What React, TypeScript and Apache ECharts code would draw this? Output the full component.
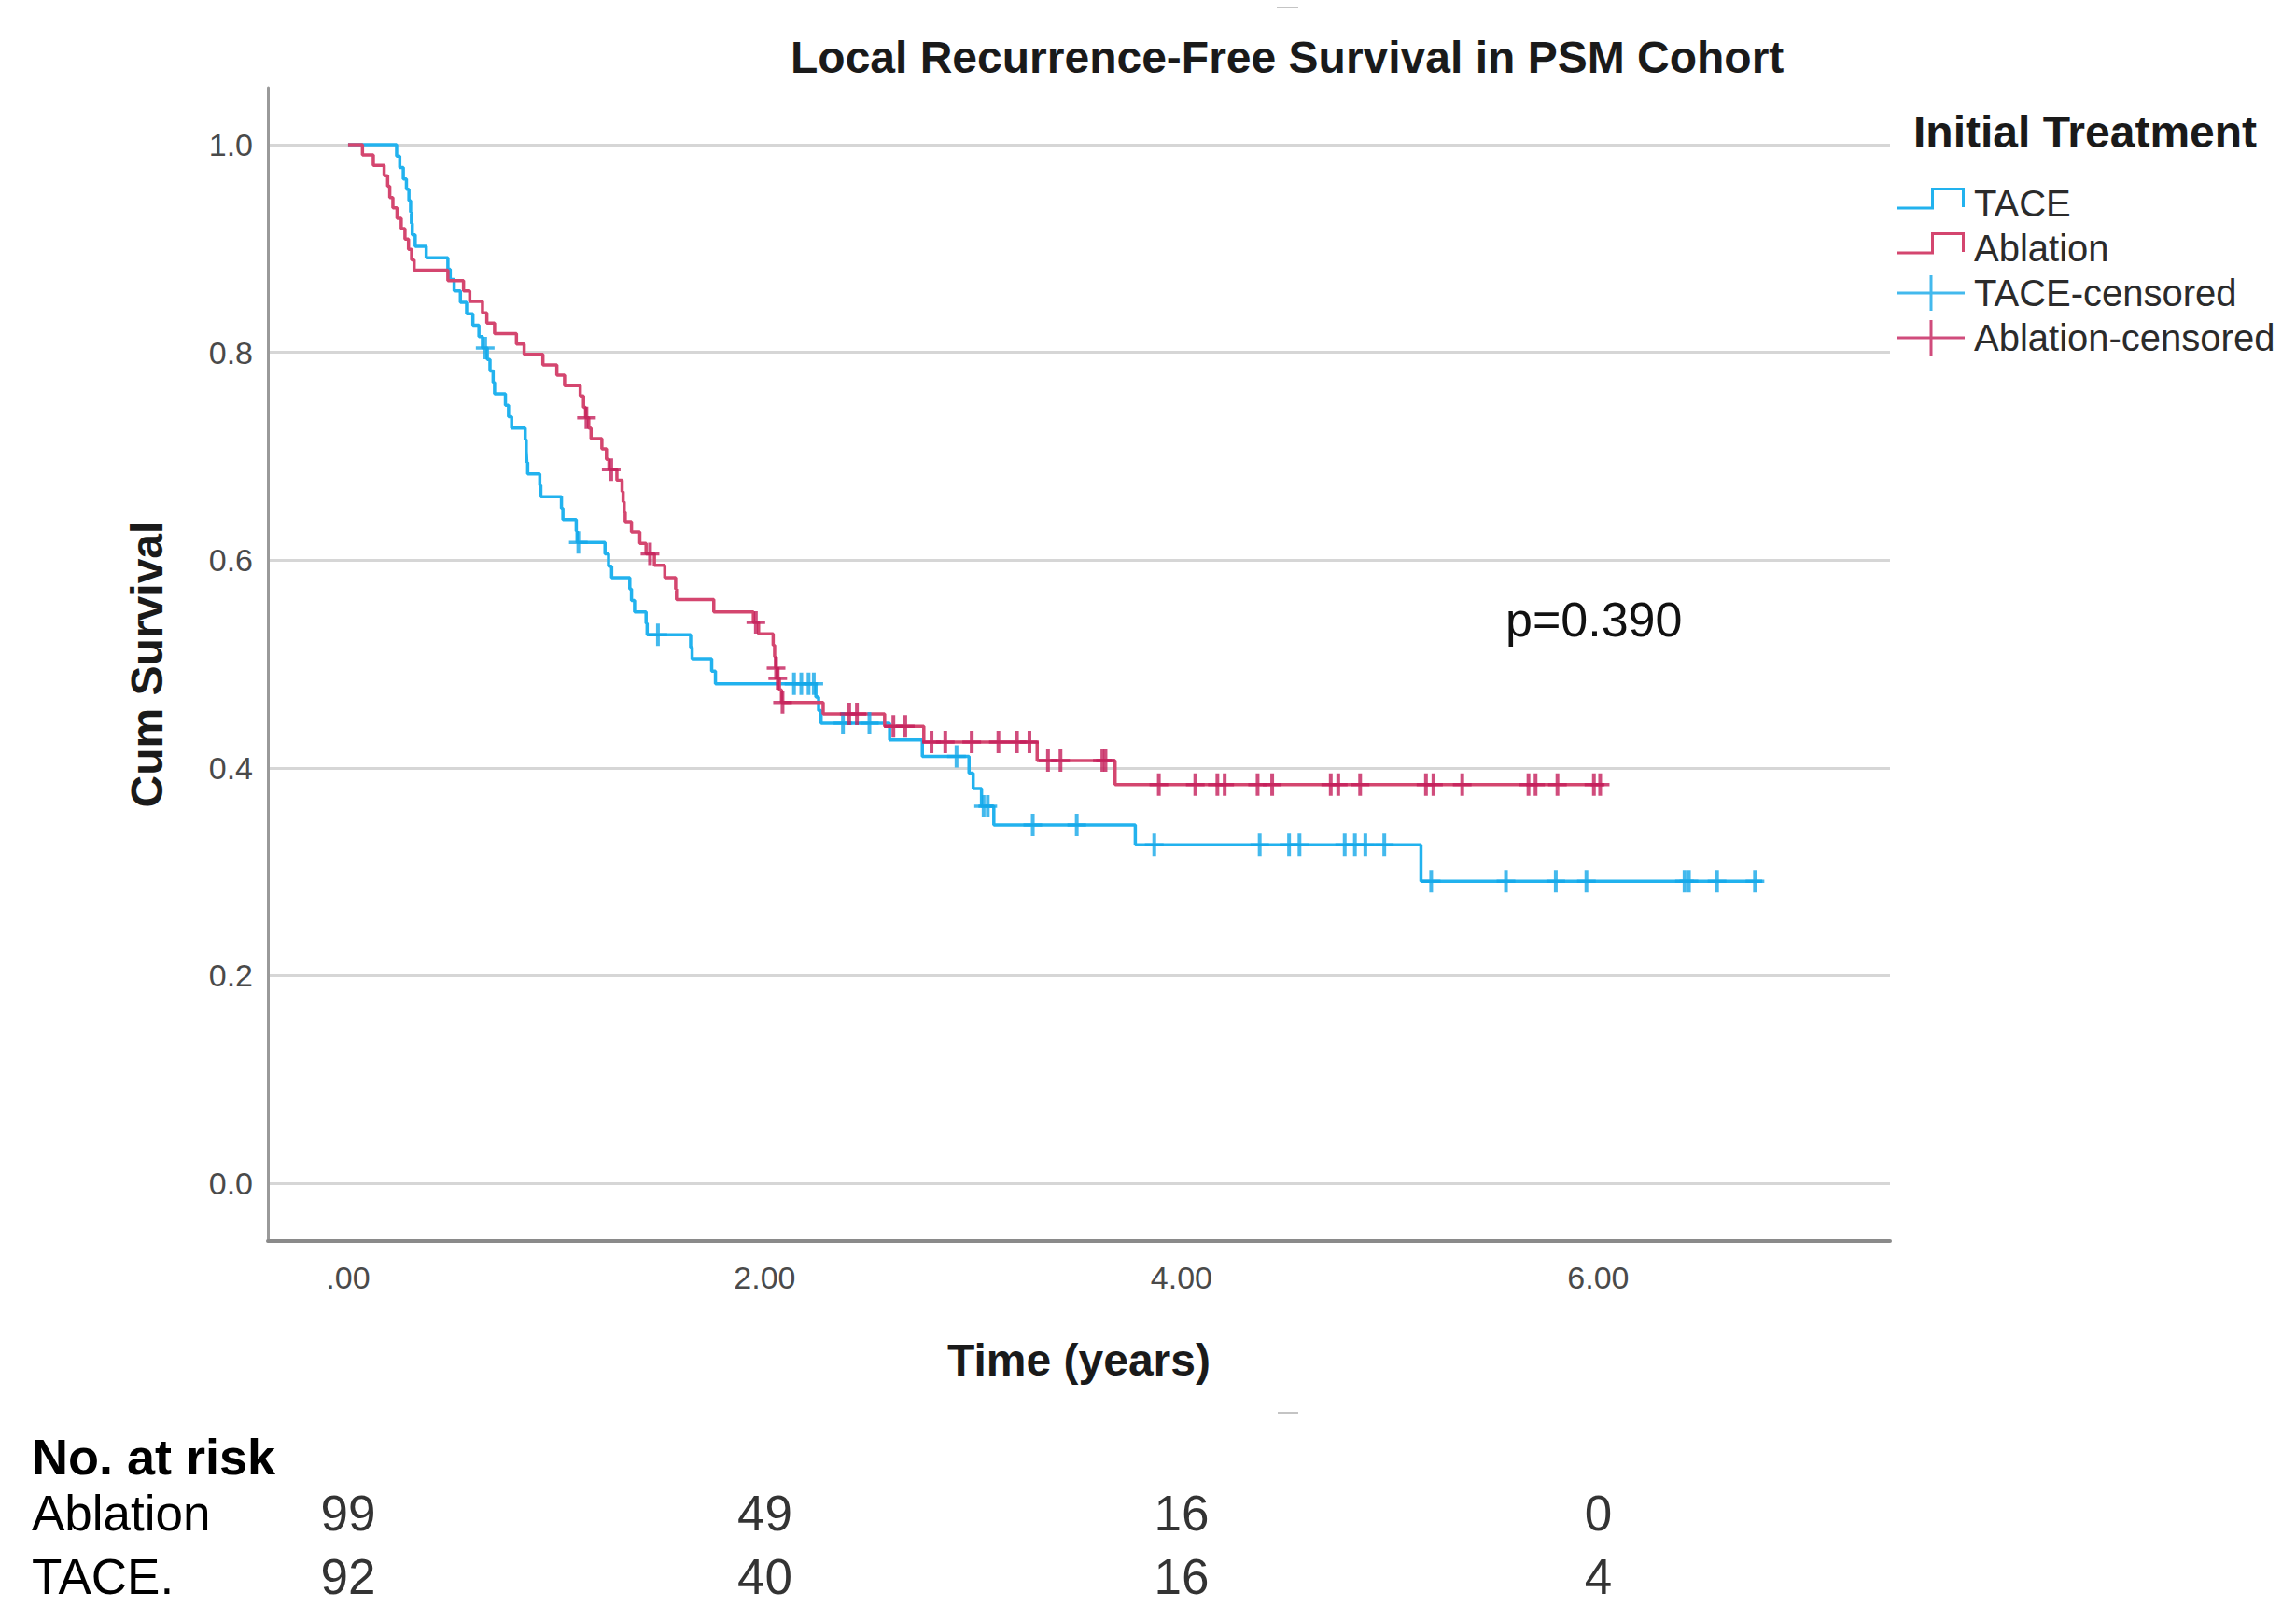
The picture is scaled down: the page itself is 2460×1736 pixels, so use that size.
import React, { useEffect, useRef } from 'react';
import * as echarts from 'echarts';

const FONT = '"Liberation Sans", Arial, Helvetica, sans-serif';

// ---- Data ----
const titleText = 'Local Recurrence-Free Survival in PSM Cohort';
const legendTitle = 'Initial Treatment';
const pValueText = 'p=0.390';

const xTickValues = [0, 2, 4, 6];
const xTickLabels = ['.00', '2.00', '4.00', '6.00'];
const yTickValues = [0, 0.2, 0.4, 0.6, 0.8, 1.0];
const yTickLabels = ['0.0', '0.2', '0.4', '0.6', '0.8', '1.0'];

// Kaplan-Meier step points: [time (years), cumulative survival after the step]
const taceSteps: [number, number][] = [
  [0, 1.0], [0.233, 0.989], [0.248, 0.978], [0.265, 0.967], [0.28, 0.957], [0.292, 0.946],
  [0.3, 0.935], [0.304, 0.924], [0.308, 0.913], [0.322, 0.902], [0.375, 0.891], [0.479, 0.88],
  [0.49, 0.87], [0.509, 0.859], [0.539, 0.848], [0.569, 0.837], [0.599, 0.826], [0.628, 0.815],
  [0.645, 0.804], [0.668, 0.793], [0.681, 0.782], [0.696, 0.771], [0.703, 0.76], [0.755, 0.749],
  [0.77, 0.738], [0.785, 0.727], [0.85, 0.716], [0.855, 0.705], [0.858, 0.694], [0.862, 0.683],
  [0.92, 0.672], [0.925, 0.661], [1.024, 0.65], [1.031, 0.639], [1.095, 0.628], [1.099, 0.617],
  [1.233, 0.606], [1.25, 0.594], [1.265, 0.583], [1.352, 0.572], [1.36, 0.561], [1.375, 0.55],
  [1.43, 0.539], [1.435, 0.528], [1.644, 0.516], [1.651, 0.505], [1.745, 0.493], [1.763, 0.481],
  [2.245, 0.468], [2.258, 0.455], [2.27, 0.443], [2.599, 0.427], [2.756, 0.411], [2.98, 0.395],
  [3.0, 0.38], [3.04, 0.363], [3.099, 0.345], [3.778, 0.326], [5.149, 0.291], [6.787, 0.291],
];
const taceCensored: [number, number][] = [
  [0.658, 0.804], [1.105, 0.617], [1.487, 0.528], [2.14, 0.481], [2.175, 0.481], [2.21, 0.481],
  [2.235, 0.481], [2.375, 0.443], [2.502, 0.443], [2.92, 0.411], [3.05, 0.363], [3.07, 0.363],
  [3.286, 0.345], [3.497, 0.345], [3.869, 0.326], [4.375, 0.326], [4.516, 0.326], [4.566, 0.326],
  [4.783, 0.326], [4.832, 0.326], [4.882, 0.326], [4.973, 0.326], [5.198, 0.291], [5.557, 0.291],
  [5.796, 0.291], [5.943, 0.291], [6.414, 0.291], [6.435, 0.291], [6.57, 0.291], [6.752, 0.291],
];
const ablationSteps: [number, number][] = [
  [0, 1.0], [0.069, 0.99], [0.121, 0.98], [0.173, 0.97], [0.19, 0.96], [0.2, 0.949],
  [0.215, 0.939], [0.235, 0.929], [0.255, 0.919], [0.273, 0.909], [0.29, 0.899], [0.305, 0.889],
  [0.317, 0.879], [0.479, 0.869], [0.554, 0.859], [0.584, 0.849], [0.645, 0.838], [0.666, 0.828],
  [0.703, 0.818], [0.808, 0.808], [0.845, 0.798], [0.935, 0.788], [1.002, 0.778], [1.039, 0.768],
  [1.114, 0.758], [1.13, 0.747], [1.14, 0.737], [1.155, 0.727], [1.166, 0.717], [1.218, 0.707],
  [1.24, 0.697], [1.252, 0.687], [1.29, 0.677], [1.315, 0.666], [1.32, 0.656], [1.325, 0.646],
  [1.33, 0.637], [1.36, 0.627], [1.4, 0.616], [1.43, 0.606], [1.47, 0.595], [1.52, 0.583],
  [1.572, 0.572], [1.576, 0.562], [1.755, 0.55], [1.945, 0.54], [1.97, 0.529], [2.04, 0.518],
  [2.047, 0.507], [2.052, 0.496], [2.06, 0.486], [2.07, 0.475], [2.08, 0.463], [2.28, 0.452],
  [2.575, 0.44], [2.763, 0.425], [3.307, 0.407], [3.681, 0.384], [6.03, 0.384],
];
const ablationCensored: [number, number][] = [
  [1.144, 0.737], [1.263, 0.687], [1.449, 0.606], [1.957, 0.54], [2.054, 0.496], [2.062, 0.486],
  [2.085, 0.463], [2.405, 0.452], [2.442, 0.452], [2.617, 0.44], [2.674, 0.44], [2.8, 0.425],
  [2.866, 0.425], [2.993, 0.425], [3.121, 0.425], [3.21, 0.425], [3.27, 0.425], [3.359, 0.407],
  [3.419, 0.407], [3.62, 0.407], [3.635, 0.407], [3.891, 0.384], [4.066, 0.384], [4.172, 0.384],
  [4.207, 0.384], [4.365, 0.384], [4.435, 0.384], [4.716, 0.384], [4.752, 0.384], [4.857, 0.384],
  [5.173, 0.384], [5.209, 0.384], [5.347, 0.384], [5.665, 0.384], [5.699, 0.384], [5.804, 0.384],
  [5.979, 0.384], [6.009, 0.384],
];

// Number at risk table
const atRiskTimes = [0, 2, 4, 6];
const atRiskRows = ['TACE.', 'Ablation'];
const ablationAtRisk = [99, 49, 16, 0];
const taceAtRisk = [92, 40, 16, 4];

// ---- Styles ----
const BLUE = '#22B2EE';
const PINK = '#D4466F';
const BLUE_MARK = '#14A8E8';
const PINK_MARK = '#C41F5B';

const stepIcon =
  'path://M0,0 M78,48 M0,27.5 L37,27.5 L37,7 L73,7 L73,28 L70,28 L70,10 L40,10 L40,30.5 L0,30.5 Z';
const plusIcon =
  'path://M0,0 M78,48 M0,22.5 L35.5,22.5 L35.5,5 L38.5,5 L38.5,22.5 L73,22.5 L73,25.5 L38.5,25.5 L38.5,43 L35.5,43 L35.5,25.5 L0,25.5 Z';
const censorSymbol =
  'path://M8,0 L12,0 L12,10.25 L20,10.25 L20,13.75 L12,13.75 L12,24 L8,24 L8,13.75 L0,13.75 L0,10.25 L8,10.25 Z';

const labelFor = (values: number[], labels: string[]) => (v: number) => {
  const i = values.findIndex((x) => Math.abs(x - v) < 1e-6);
  return i >= 0 ? labels[i] : '';
};

const X_MIN = -0.385;
const X_MAX = 7.4;
const Y_MIN = -0.0556;
const Y_MAX = 1.0547;

function buildOption(): any {
  return {
    animation: false,
    backgroundColor: '#ffffff',
    textStyle: { fontFamily: FONT },
    title: [
      {
        text: titleText, left: 847, top: 37, padding: 0,
        textStyle: { fontSize: 48, fontWeight: 'bold', color: '#1a1a1a', fontFamily: FONT },
      },
      {
        text: legendTitle, left: 2050, top: 117, padding: 0,
        textStyle: { fontSize: 48, fontWeight: 'bold', color: '#1a1a1a', fontFamily: FONT },
      },
      {
        text: pValueText, left: 1613, top: 638, padding: 0,
        textStyle: { fontSize: 52, fontWeight: 'normal', color: '#111111', fontFamily: FONT },
      },
      {
        text: 'No. at risk', left: 34, top: 1534, padding: 0,
        textStyle: { fontSize: 54, fontWeight: 'bold', color: '#000000', fontFamily: FONT },
      },
    ],
    graphic: [
      { type: 'line', silent: true, shape: { x1: 1368, y1: 8, x2: 1391, y2: 8 }, style: { stroke: '#c4c4c4', lineWidth: 2 } },
      { type: 'line', silent: true, shape: { x1: 1369, y1: 1514, x2: 1391, y2: 1514 }, style: { stroke: '#c4c4c4', lineWidth: 2 } },
    ],
    legend: {
      orient: 'vertical', left: 2032, top: 194, padding: 0,
      itemWidth: 78, itemHeight: 48, itemGap: 0, selectedMode: false,
      textStyle: { fontSize: 40, color: '#2b2b2b', fontFamily: FONT },
      itemStyle: { borderWidth: 0 },
      data: [
        { name: 'TACE', icon: stepIcon },
        { name: 'Ablation', icon: stepIcon },
        { name: 'TACE-censored', icon: plusIcon },
        { name: 'Ablation-censored', icon: plusIcon },
      ],
    },
    grid: [
      { left: 287, top: 94, width: 1738, height: 1236, containLabel: false, outerBoundsMode: 'none' },
      { left: 287, top: 1621, width: 1738, height: 68, containLabel: false, outerBoundsMode: 'none' },
    ],
    xAxis: [
      {
        type: 'value', gridIndex: 0, min: X_MIN, max: X_MAX,
        name: 'Time (years)', nameLocation: 'middle', nameGap: 103,
        nameTextStyle: { fontSize: 48, fontWeight: 'bold', color: '#1a1a1a', fontFamily: FONT },
        axisLine: { show: true, onZero: false, lineStyle: { color: '#8a8a8a', width: 4 } },
        axisTick: { show: false, customValues: xTickValues },
        axisLabel: {
          show: true, customValues: xTickValues, formatter: labelFor(xTickValues, xTickLabels),
          fontSize: 34, color: '#4a4a4a', margin: 22, fontFamily: FONT,
        },
        splitLine: { show: false },
      },
      {
        type: 'value', gridIndex: 1, min: X_MIN, max: X_MAX, show: false,
        axisLine: { show: false }, axisTick: { show: false }, axisLabel: { show: false },
        splitLine: { show: false },
      },
    ],
    yAxis: [
      {
        type: 'value', gridIndex: 0, min: Y_MIN, max: Y_MAX,
        name: 'Cum Survival', nameLocation: 'middle', nameGap: 106, nameRotate: 90,
        nameTextStyle: { fontSize: 48, fontWeight: 'bold', color: '#1a1a1a', fontFamily: FONT },
        axisLine: { show: true, onZero: false, lineStyle: { color: '#9a9a9a', width: 3 } },
        axisTick: { show: false, customValues: yTickValues },
        axisLabel: {
          show: true, customValues: yTickValues, formatter: labelFor(yTickValues, yTickLabels),
          fontSize: 34, color: '#4a4a4a', margin: 16, padding: [10, 0, 0, 0], fontFamily: FONT,
        },
        splitLine: { show: true, lineStyle: { color: '#d6d6d6', width: 3 } },
      },
      {
        type: 'category', gridIndex: 1, data: atRiskRows, boundaryGap: false,
        axisLine: { show: false }, axisTick: { show: false }, splitLine: { show: false },
        axisLabel: {
          show: true, interval: 0, showMinLabel: true, showMaxLabel: true, hideOverlap: false,
          fontSize: 53, color: '#000000', align: 'left', margin: 253, fontFamily: FONT,
        },
      },
    ],
    series: [
      {
        name: 'TACE', type: 'line', step: 'end', xAxisIndex: 0, yAxisIndex: 0,
        data: taceSteps, showSymbol: false, symbol: 'none', color: BLUE,
        lineStyle: { color: BLUE, width: 3.5 }, itemStyle: { color: BLUE }, silent: true,
      },
      {
        name: 'Ablation', type: 'line', step: 'end', xAxisIndex: 0, yAxisIndex: 0,
        data: ablationSteps, showSymbol: false, symbol: 'none', color: PINK,
        lineStyle: { color: PINK, width: 3.5 }, itemStyle: { color: PINK }, silent: true,
      },
      {
        name: 'TACE-censored', type: 'scatter', xAxisIndex: 0, yAxisIndex: 0,
        data: taceCensored, symbol: censorSymbol, symbolSize: [20, 24], color: BLUE_MARK,
        itemStyle: { color: BLUE_MARK }, silent: true, z: 3,
      },
      {
        name: 'Ablation-censored', type: 'scatter', xAxisIndex: 0, yAxisIndex: 0,
        data: ablationCensored, symbol: censorSymbol, symbolSize: [20, 24], color: PINK_MARK,
        itemStyle: { color: PINK_MARK }, silent: true, z: 3,
      },
      {
        name: 'At risk Ablation', type: 'scatter', xAxisIndex: 1, yAxisIndex: 1,
        data: atRiskTimes.map((t, i) => [t, 'Ablation', ablationAtRisk[i]]),
        symbolSize: 1, itemStyle: { color: 'rgba(0,0,0,0)' }, silent: true,
        label: {
          show: true, position: 'inside', formatter: (p: any) => String(p.value[2]),
          fontSize: 53, color: '#000000', fontFamily: FONT,
        },
      },
      {
        name: 'At risk TACE', type: 'scatter', xAxisIndex: 1, yAxisIndex: 1,
        data: atRiskTimes.map((t, i) => [t, 'TACE.', taceAtRisk[i]]),
        symbolSize: 1, itemStyle: { color: 'rgba(0,0,0,0)' }, silent: true,
        label: {
          show: true, position: 'inside', formatter: (p: any) => String(p.value[2]),
          fontSize: 53, color: '#000000', fontFamily: FONT,
        },
      },
    ],
  };
}

export default function App() {
  const ref = useRef<HTMLDivElement>(null);
  useEffect(() => {
    document.body.style.margin = '0';
    const el = ref.current;
    if (!el) return;
    const chart = echarts.init(el, null, { renderer: 'svg' });
    chart.setOption(buildOption());
    return () => chart.dispose();
  }, []);
  return <div ref={ref} style={{ width: 2460, height: 1736, background: '#ffffff' }} />;
}
